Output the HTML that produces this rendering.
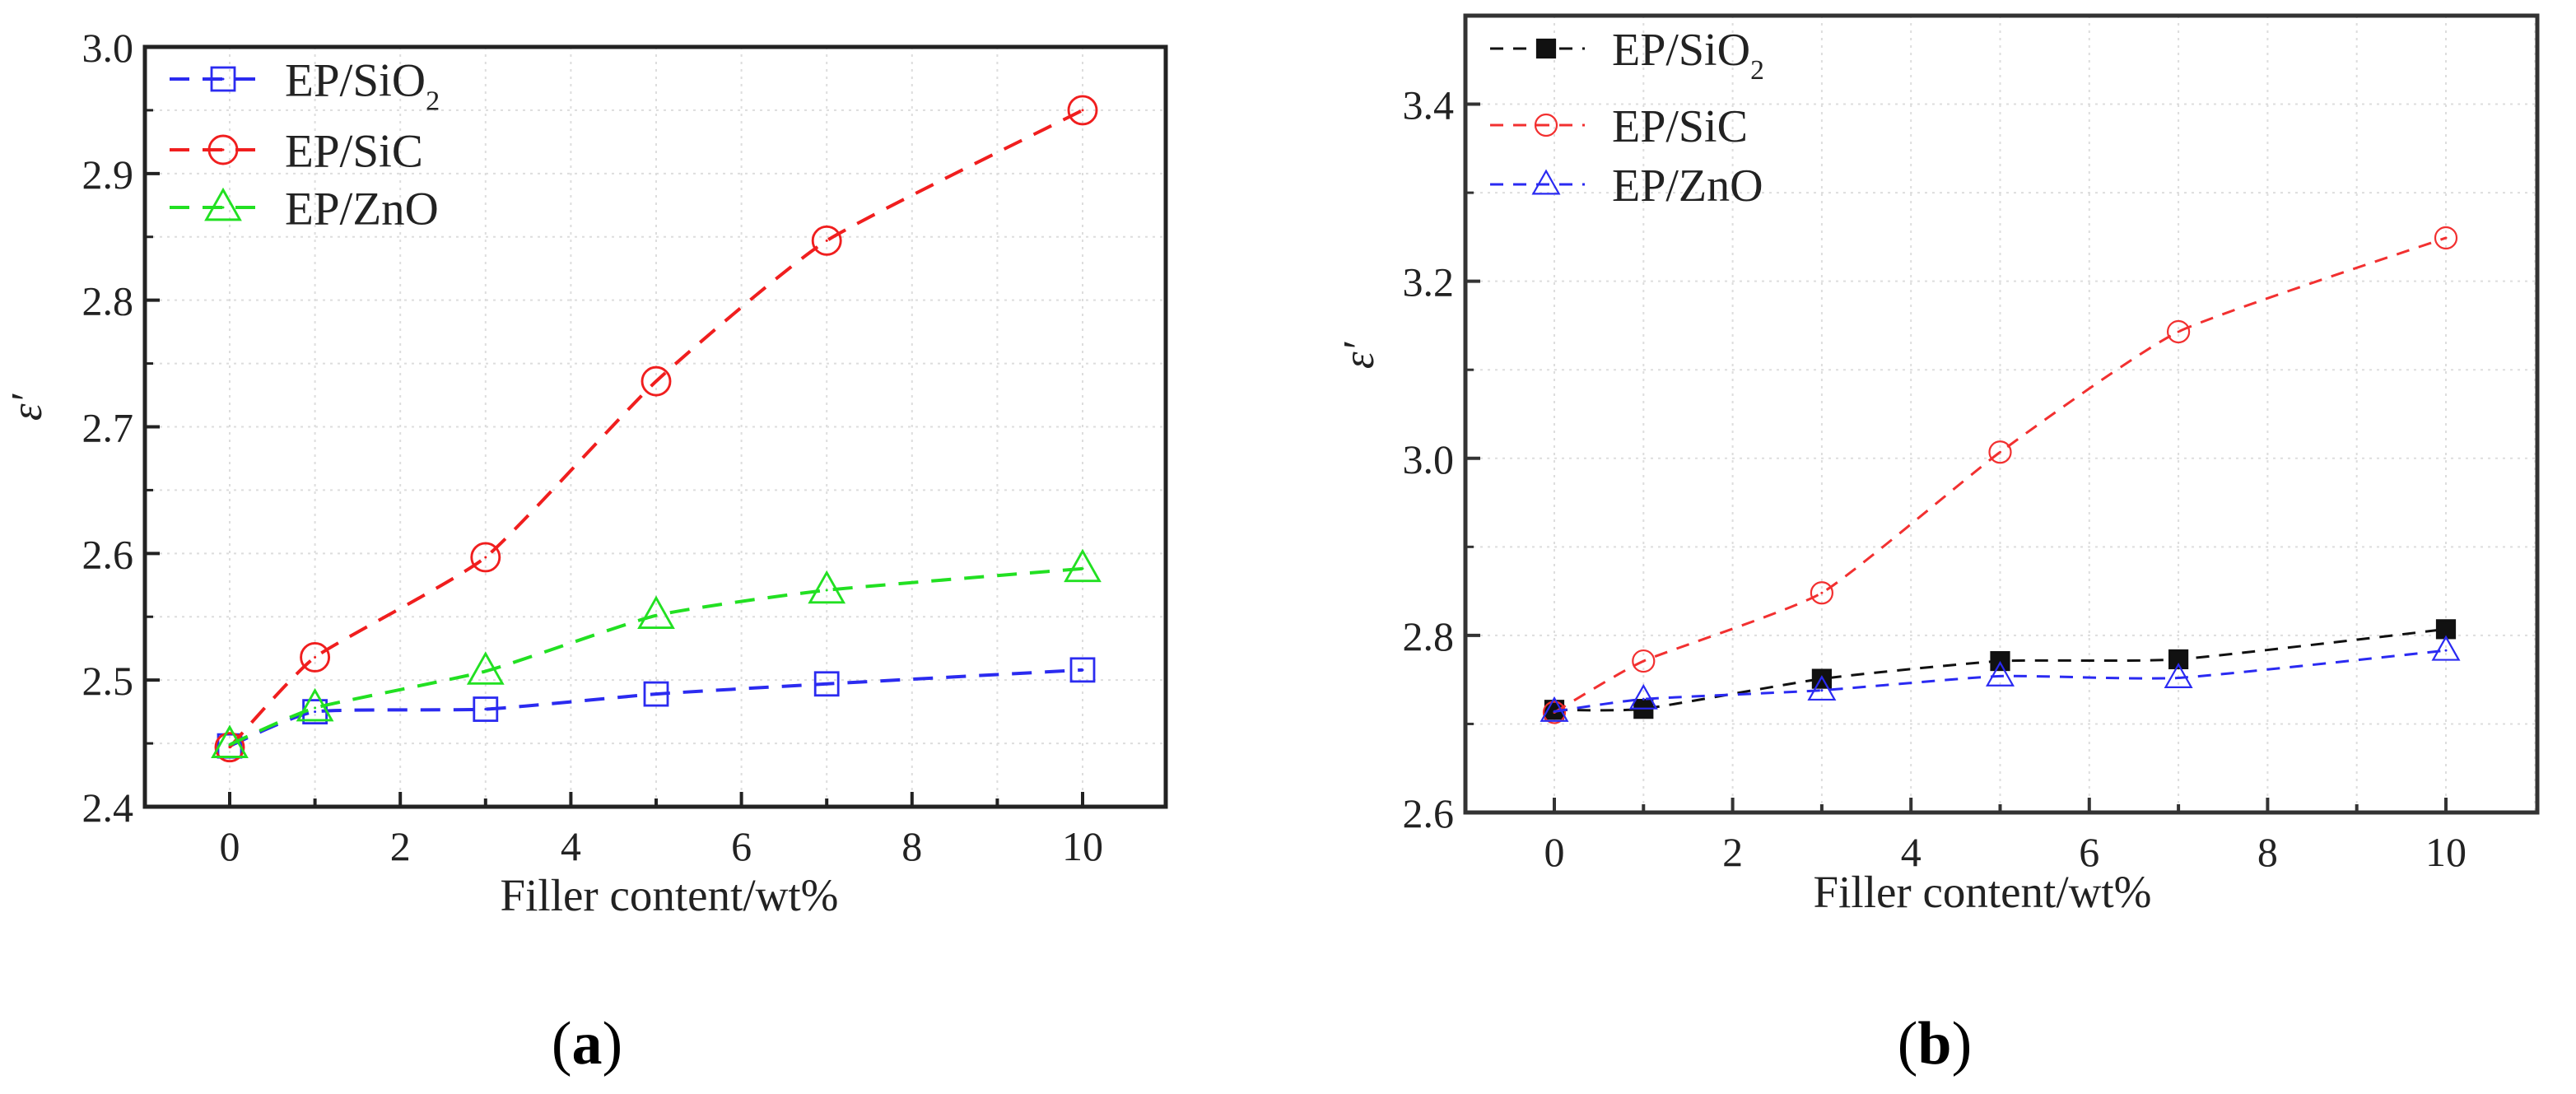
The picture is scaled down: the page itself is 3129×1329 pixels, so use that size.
<!DOCTYPE html>
<html><head><meta charset="utf-8"><style>
html,body{margin:0;padding:0;background:#fff;}
svg{display:block;font-family:"Liberation Serif",serif;}
</style></head><body>
<svg id="chart" width="3129" height="1329" viewBox="0 0 3129 1329" xmlns="http://www.w3.org/2000/svg"></svg>
<script>
const xCats = [0,1,3,5,7,10];
const xTickLabels = [0,2,4,6,8,10];
// Panel (a)
const aSiO2 = [2.448,2.475,2.477,2.489,2.497,2.508];
const aSiC  = [2.447,2.518,2.597,2.736,2.847,2.950];
const aZnO  = [2.449,2.478,2.507,2.551,2.571,2.588];
const aYTicks = [2.4,2.5,2.6,2.7,2.8,2.9,3.0];
// Panel (b)
const bSiO2 = [2.716,2.717,2.751,2.771,2.773,2.807];
const bSiC  = [2.713,2.771,2.848,3.007,3.143,3.249];
const bZnO  = [2.714,2.728,2.738,2.754,2.752,2.783];
const bYTicks = [2.6,2.8,3.0,3.2,3.4];

const NS="http://www.w3.org/2000/svg";
const svg=document.getElementById('chart');
function mk(tag,attrs,parent){const e=document.createElementNS(NS,tag);for(const k in attrs)e.setAttribute(k,attrs[k]);(parent||svg).appendChild(e);return e;}

function spline(pts){
  let d=`M${pts[0][0]},${pts[0][1]}`;
  for(let i=0;i<pts.length-1;i++){
    const p0=pts[Math.max(i-1,0)],p1=pts[i],p2=pts[i+1],p3=pts[Math.min(i+2,pts.length-1)];
    const t=12;
    const c1=[p1[0]+(p2[0]-p0[0])/t,p1[1]+(p2[1]-p0[1])/t];
    const c2=[p2[0]-(p3[0]-p1[0])/t,p2[1]-(p3[1]-p1[1])/t];
    d+=` C${c1[0]},${c1[1]} ${c2[0]},${c2[1]} ${p2[0]},${p2[1]}`;
  }
  return d;
}

function marker(g,type,x,y,color,fill,s){
  let e;
  if(type==='square'){e=mk('rect',{x:x-s,y:y-s,width:2*s,height:2*s,fill:fill,stroke:color,'stroke-width':s*0.2},g);}
  else if(type==='circle'){e=mk('circle',{cx:x,cy:y,r:s,fill:fill,stroke:color,'stroke-width':s*0.17},g);}
  else {const h=s*1.25;e=mk('polygon',{points:`${x},${y-h} ${x-s*1.2},${y+h*0.7} ${x+s*1.2},${y+h*0.7}`,fill:fill,stroke:color,'stroke-width':s*0.17},g);}
  if(fill==='none'){mk('circle',{cx:x,cy:y,r:1.5,fill:color},g);}
  return e;
}

function panel(cfg){
  const g=mk('g',{});
  
  
  const X=v=>cfg.x0+(v-0)*cfg.xu;
  const Y=v=>cfg.bottom-(v-cfg.ymin)/(cfg.ymax-cfg.ymin)*(cfg.bottom-cfg.top);
  for(let v=-1;v<=11;v++){const x=X(v);if(x>cfg.left+2&&x<cfg.right-2){const l=mk('line',{x1:x,x2:x,y1:cfg.top,y2:cfg.bottom,stroke:'#ddd','stroke-width':2,'stroke-dasharray':'3 6'},g);}}
  for(let v=cfg.ymin+cfg.minor;v<cfg.ymax-1e-9;v+=cfg.minor){const y=Y(v);const l=mk('line',{x1:cfg.left,x2:cfg.right,y1:y,y2:y,stroke:'#ddd','stroke-width':2,'stroke-dasharray':'3 6'},g);
    const t=mk('line',{x1:cfg.left,x2:cfg.left+10,y1:y,y2:y,stroke:cfg.axis,'stroke-width':3},g);}
  const fr=mk('rect',{x:cfg.left,y:cfg.top,width:cfg.right-cfg.left,height:cfg.bottom-cfg.top,fill:'none',stroke:cfg.axis,'stroke-width':5},g);
  
  for(let v=-1;v<=11;v++){const x=X(v);if(x<=cfg.left+3||x>=cfg.right-3)continue;const maj=v%2===0;
    const t=mk('line',{x1:x,x2:x,y1:cfg.bottom,y2:cfg.bottom-(maj?18:10),stroke:cfg.axis,'stroke-width':4},g);}
  xTickLabels.forEach(v=>{const t=mk('text',{x:X(v),y:cfg.xlabY,'font-size':cfg.fs,'text-anchor':'middle',fill:'#222'},g);t.textContent=v;});
  cfg.yTicks.forEach(v=>{const y=Y(v);const t=mk('line',{x1:cfg.left,x2:cfg.left+18,y1:y,y2:y,stroke:cfg.axis,'stroke-width':4},g);
    const l=mk('text',{x:cfg.left-14,y:y+cfg.fs*0.36,'font-size':cfg.fs,'text-anchor':'end',fill:'#222'},g);l.textContent=v.toFixed(1);});
  const xt=mk('text',{x:cfg.xtX,y:cfg.xtY,'font-size':cfg.fs*1.1,'text-anchor':'middle',fill:'#222'},g);xt.textContent='Filler content/wt%';
  const yt=mk('text',{x:cfg.ytX,y:cfg.ytY,'font-size':cfg.fs*1.05,'font-style':'italic','text-anchor':'middle',fill:'#222',transform:`rotate(-90 ${cfg.ytX} ${cfg.ytY})`},g);yt.textContent='ε′';
  cfg.series.forEach((s,si)=>{
    const sg=mk('g',{},g);
    
    const pts=xCats.map((c,i)=>[X(c),Y(s.data[i])]);
    const p=mk('path',{d:spline(pts),fill:'none',stroke:s.color,'stroke-width':cfg.lw,'stroke-dasharray':cfg.dash},sg);
    
    pts.forEach(q=>{const m=marker(sg,s.marker,q[0],q[1],s.color,s.fill,cfg.ms[s.marker]);});
    const ly=cfg.legY[si];
    const lg=mk('g',{},g);
    mk('line',{x1:cfg.legX1,x2:cfg.legX2,y1:ly,y2:ly,stroke:s.color,'stroke-width':cfg.lw,'stroke-dasharray':cfg.dash},lg);
    marker(lg,s.marker,cfg.legM,ly,s.color,s.fill,cfg.ms[s.marker]);
    const tx=mk('text',{x:cfg.legT,y:ly+cfg.lfs*0.36,'font-size':cfg.lfs,fill:'#222'},lg);
    if(s.key.indexOf('sio2')>=0){tx.textContent='EP/SiO';const sub=mk('tspan',{'font-size':cfg.lfs*0.6,dy:cfg.lfs*0.3},tx);sub.textContent='2';}
    else tx.textContent=s.label;
  });
  const cap=mk('text',{x:cfg.capX,y:1292,'font-size':74,'text-anchor':'middle',fill:'#000'},g);
  
  const a1=mk('tspan',{},cap);a1.textContent='(';const a2=mk('tspan',{'font-weight':'bold'},cap);a2.textContent=cfg.cap;const a3=mk('tspan',{},cap);a3.textContent=')';
}

panel({name:'panel-a',left:176,right:1416,top:57,bottom:980,x0:279,xu:103.6,ymin:2.4,ymax:3.0,minor:0.05,yTicks:aYTicks,axis:'#222',
  fs:50,lfs:57,xlabY:1045,xtX:813,xtY:1106,ytX:50,ytY:495,lw:4,dash:'24 16',ms:{square:14,circle:17,triangle:17},
  legY:[96,182,252],legX1:206,legX2:314,legM:271,legT:346,capX:713,cap:'a',
  series:[{key:'a-sio2',label:'EP/SiO2',data:aSiO2,color:'#2b2bf0',marker:'square',fill:'none'},
          {key:'a-sic',label:'EP/SiC',data:aSiC,color:'#f01e1e',marker:'circle',fill:'none'},
          {key:'a-zno',label:'EP/ZnO',data:aZnO,color:'#22e022',marker:'triangle',fill:'none'}]});

panel({name:'panel-b',left:1780,right:3082,top:19,bottom:987,x0:1888,xu:108.3,ymin:2.6,ymax:3.5,minor:0.1,yTicks:bYTicks,axis:'#333',
  fs:50,lfs:56,xlabY:1052,xtX:2408,xtY:1102,ytX:1668,ytY:432,lw:3,dash:'16 12',ms:{square:11,circle:13,triangle:13},
  legY:[59,152,224],legX1:1810,legX2:1925,legM:1878,legT:1958,capX:2350,cap:'b',
  series:[{key:'b-sio2',label:'EP/SiO2',data:bSiO2,color:'#111',marker:'square',fill:'#111'},
          {key:'b-sic',label:'EP/SiC',data:bSiC,color:'#f23030',marker:'circle',fill:'none'},
          {key:'b-zno',label:'EP/ZnO',data:bZnO,color:'#2a2af2',marker:'triangle',fill:'none'}]});
</script>
</body></html>
